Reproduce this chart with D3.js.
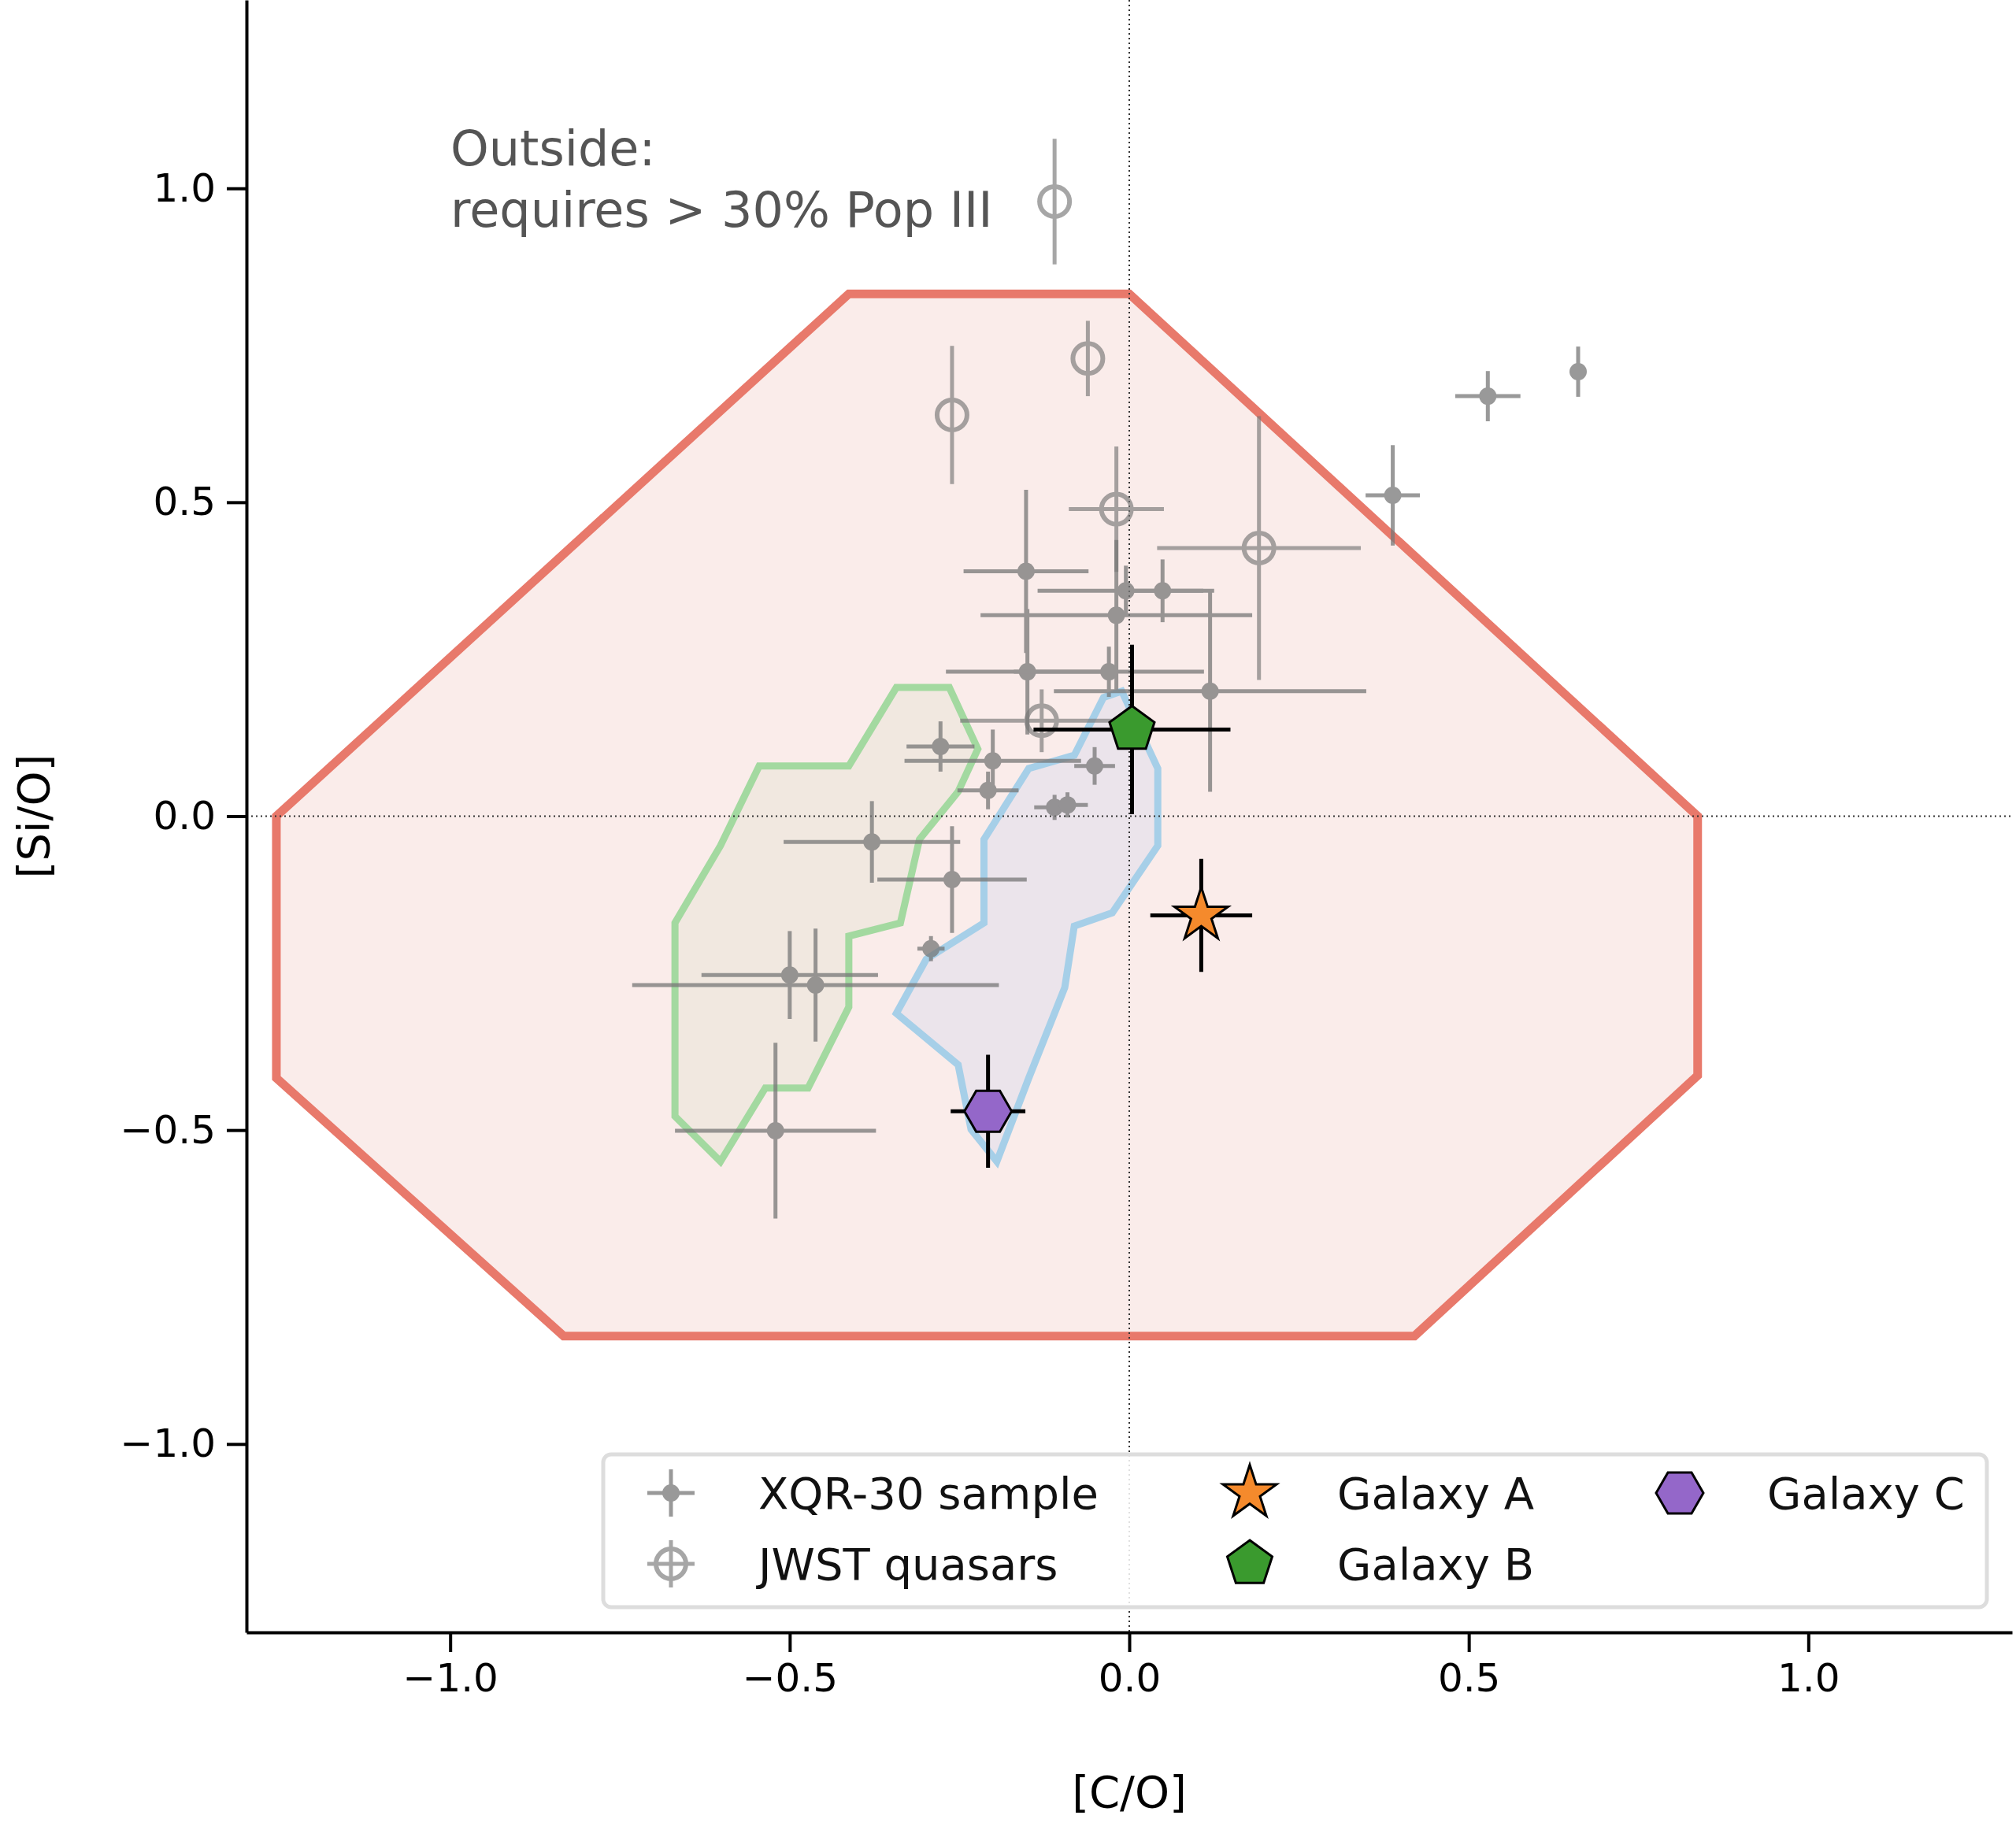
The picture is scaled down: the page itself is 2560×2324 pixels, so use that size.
<!DOCTYPE html>
<html lang="en">
<head>
<meta charset="UTF-8">
<title>[Si/O] vs [C/O]</title>
<script src="https://d3js.org/d3.v7.min.js"></script>
<style>
  body { margin: 0; background: #fff; }
  text { font-family: "DejaVu Sans", Arial, sans-serif; }
</style>
</head>
<body>
<svg id="chart" width="2560" height="2324"></svg>
<script>
// region outlines [C/O, Si/O]
const popRegion = [[-0.413,0.832],[0,0.832],[0.837,0],[0.837,-0.413],[0.42,-0.828],[-0.833,-0.828],[-1.256,-0.417],[-1.256,0]];
const greenRegion = [[-0.343,0.205],[-0.265,0.205],[-0.223,0.107],[-0.252,0.039],[-0.309,-0.037],[-0.337,-0.170],[-0.413,-0.191],[-0.413,-0.304],[-0.473,-0.433],[-0.536,-0.433],[-0.602,-0.550],[-0.669,-0.478],[-0.669,-0.170],[-0.602,-0.047],[-0.545,0.080],[-0.413,0.080]];
const blueRegion = [[-0.038,0.189],[-0.011,0.199],[0.042,0.076],[0.042,-0.047],[-0.025,-0.154],[-0.081,-0.175],[-0.095,-0.273],[-0.148,-0.417],[-0.195,-0.550],[-0.233,-0.499],[-0.252,-0.396],[-0.343,-0.314],[-0.299,-0.228],[-0.214,-0.170],[-0.214,-0.037],[-0.148,0.076],[-0.081,0.097]];

// XQR-30: x, y, xerr, yerr
const xqr = [
  [0.661,0.708,0.0,0.04],[0.528,0.669,0.048,0.04],[0.388,0.511,0.04,0.08],
  [-0.152,0.390,0.092,0.13],[-0.005,0.359,0.13,0.04],[0.049,0.359,0.06,0.05],
  [-0.019,0.320,0.2,0.12],[-0.150,0.230,0.12,0.1],[-0.030,0.230,0.14,0.04],
  [0.119,0.199,0.23,0.16],[-0.278,0.111,0.05,0.04],[-0.201,0.088,0.13,0.05],
  [-0.208,0.041,0.045,0.03],[-0.051,0.080,0.03,0.03],[-0.110,0.014,0.03,0.02],
  [-0.091,0.018,0.03,0.02],[-0.379,-0.041,0.13,0.065],[-0.261,-0.101,0.11,0.085],
  [-0.292,-0.211,0.02,0.02],[-0.500,-0.253,0.13,0.07],[-0.462,-0.269,0.27,0.09],
  [-0.521,-0.501,0.148,0.14]
];
// JWST quasars: x, y, xerr, yerr
const jwst = [
  [-0.110,0.979,0,0.1],[-0.061,0.729,0,0.06],[-0.261,0.639,0,0.11],
  [-0.019,0.489,0.07,0.1],[0.191,0.427,0.15,0.21],[-0.129,0.152,0.12,0.05]
];
const galaxies = [
  {name:"Galaxy A", x:0.106, y:-0.158, xe:0.075, ye:0.09, color:"#f58a2c", shape:"star"},
  {name:"Galaxy B", x:0.004, y:0.138, xe:0.145, ye:0.135, color:"#3a9a2e", shape:"pent"},
  {name:"Galaxy C", x:-0.208, y:-0.470, xe:0.055, ye:0.09, color:"#9467c9", shape:"hex"}
];
const ticks = [-1.0, -0.5, 0.0, 0.5, 1.0];

const svg = d3.select("#chart");
const mL = 313, mR = 2555, mT = 0, mB = 2073;
const x = d3.scaleLinear().domain([-1.3, 1.3]).range([mL, mR]);
const y = d3.scaleLinear().domain([-1.3, 1.3]).range([mB, mT]);
const line = d3.line().x(d => x(d[0])).y(d => y(d[1]));

function poly(pts, fill, stroke, w, op) {
  svg.append("path").attr("d", line(pts) + "Z")
    .attr("fill", fill).attr("fill-opacity", op)
    .attr("stroke", stroke).attr("stroke-width", w).attr("stroke-linejoin", "miter");
}
poly(popRegion, "#f6dcd8", "#e8796b", 11, 0.55);
poly(greenRegion, "#e8e4d6", "#a3d9a0", 9, 0.5);
poly(blueRegion, "#dcdcec", "#a6cfe8", 9, 0.5);

// reference lines
svg.append("line").attr("x1", x(0)).attr("x2", x(0)).attr("y1", mT).attr("y2", mB)
  .attr("stroke", "#333").attr("stroke-width", 2).attr("stroke-dasharray", "2,4");
svg.append("line").attr("x1", mL).attr("x2", mR).attr("y1", y(0)).attr("y2", y(0))
  .attr("stroke", "#333").attr("stroke-width", 2).attr("stroke-dasharray", "2,4");

function errbars(g, d, color, w) {
  g.append("line").attr("x1", x(d[0]-d[2])).attr("x2", x(d[0]+d[2])).attr("y1", y(d[1])).attr("y2", y(d[1]))
    .attr("stroke", color).attr("stroke-width", w);
  g.append("line").attr("x1", x(d[0])).attr("x2", x(d[0])).attr("y1", y(d[1]-d[3])).attr("y2", y(d[1]+d[3]))
    .attr("stroke", color).attr("stroke-width", w);
}

const gx = svg.append("g").attr("opacity", 0.75);
xqr.forEach(d => {
  errbars(gx, d, "#777", 5);
  gx.append("circle").attr("cx", x(d[0])).attr("cy", y(d[1])).attr("r", 11).attr("fill", "#777");
});
const gj = svg.append("g").attr("opacity", 0.65);
jwst.forEach(d => {
  errbars(gj, d, "#777", 5);
  gj.append("circle").attr("cx", x(d[0])).attr("cy", y(d[1])).attr("r", 19)
    .attr("fill", "none").attr("stroke", "#777").attr("stroke-width", 6);
});

function shapePath(shape, r) {
  if (shape === "star") return d3.symbol(d3.symbolStar, r * r * 1.6)();
  const n = shape === "pent" ? 5 : 6;
  const off = shape === "pent" ? -Math.PI / 2 : 0;
  const pts = d3.range(n).map(i => [r * Math.cos(off + i * 2 * Math.PI / n), r * Math.sin(off + i * 2 * Math.PI / n)]);
  return "M" + pts.join("L") + "Z";
}
galaxies.forEach(g => {
  errbars(svg, [g.x, g.y, g.xe, g.ye], "#000", 5);
  svg.append("path").attr("d", shapePath(g.shape, 30))
    .attr("transform", `translate(${x(g.x)},${y(g.y)})`)
    .attr("fill", g.color).attr("stroke", "#000").attr("stroke-width", 3);
});

// annotation
const ann = svg.append("text").attr("x", 572).attr("y", 210).attr("fill", "#555").attr("font-size", 62);
ann.append("tspan").attr("x", 572).attr("dy", 0).text("Outside:");
ann.append("tspan").attr("x", 572).attr("dy", 78).text("requires  > 30% Pop III");

// axes
const fmt = d => d3.format(".1f")(d).replace("-", "\u2212");
const xAxis = svg.append("g").attr("transform", `translate(0,${mB})`)
  .call(d3.axisBottom(x).tickValues(ticks).tickFormat(fmt).tickSize(25).tickPadding(14).tickSizeOuter(0));
const yAxis = svg.append("g").attr("transform", `translate(${mL},0)`)
  .call(d3.axisLeft(y).tickValues(ticks).tickFormat(fmt).tickSize(25).tickPadding(14).tickSizeOuter(0));
[xAxis, yAxis].forEach(a => {
  a.select(".domain").attr("stroke-width", 4).attr("stroke", "#000");
  a.selectAll(".tick line").attr("stroke-width", 4).attr("stroke", "#000");
  a.selectAll(".tick text").attr("font-size", 50).attr("fill", "#000")
    .style("font-family", "'DejaVu Sans', Arial, sans-serif");
});
svg.append("text").attr("x", x(0)).attr("y", 2295).attr("text-anchor", "middle")
  .attr("font-size", 56).text("[C/O]");
svg.append("text").attr("transform", `translate(62,${y(0)}) rotate(-90)`).attr("text-anchor", "middle")
  .attr("font-size", 56).text("[Si/O]");

// legend
svg.append("rect").attr("x", 766).attr("y", 1847).attr("width", 1757).attr("height", 194).attr("rx", 10)
  .attr("fill", "#fff").attr("fill-opacity", 0.85).attr("stroke", "#ddd").attr("stroke-width", 5);
const rows = [1896, 1986];
const lg1 = svg.append("g").attr("opacity", 0.75);
lg1.append("line").attr("x1", 822).attr("x2", 882).attr("y1", rows[0]).attr("y2", rows[0]).attr("stroke", "#777").attr("stroke-width", 5);
lg1.append("line").attr("x1", 852).attr("x2", 852).attr("y1", rows[0] - 30).attr("y2", rows[0] + 30).attr("stroke", "#777").attr("stroke-width", 5);
lg1.append("circle").attr("cx", 852).attr("cy", rows[0]).attr("r", 11).attr("fill", "#777");
const lg2 = svg.append("g").attr("opacity", 0.65);
lg2.append("line").attr("x1", 822).attr("x2", 882).attr("y1", rows[1]).attr("y2", rows[1]).attr("stroke", "#777").attr("stroke-width", 5);
lg2.append("line").attr("x1", 852).attr("x2", 852).attr("y1", rows[1] - 30).attr("y2", rows[1] + 30).attr("stroke", "#777").attr("stroke-width", 5);
lg2.append("circle").attr("cx", 852).attr("cy", rows[1]).attr("r", 19).attr("fill", "none").attr("stroke", "#777").attr("stroke-width", 6);
const legText = [["XQR-30 sample", 963, rows[0]], ["JWST quasars", 963, rows[1]]];
const galPos = [[1587, rows[0]], [1587, rows[1]], [2133, rows[0]]];
galaxies.forEach((g, i) => {
  const [mx, my] = galPos[i];
  svg.append("path").attr("d", shapePath(g.shape, 30)).attr("transform", `translate(${mx},${my})`)
    .attr("fill", g.color).attr("stroke", "#000").attr("stroke-width", 3);
  legText.push([g.name, mx + 111, my]);
});
legText.forEach(t => svg.append("text").attr("x", t[1]).attr("y", t[2]).attr("dy", "0.35em")
  .attr("font-size", 56).attr("fill", "#111").text(t[0]));
</script>
</body>
</html>
